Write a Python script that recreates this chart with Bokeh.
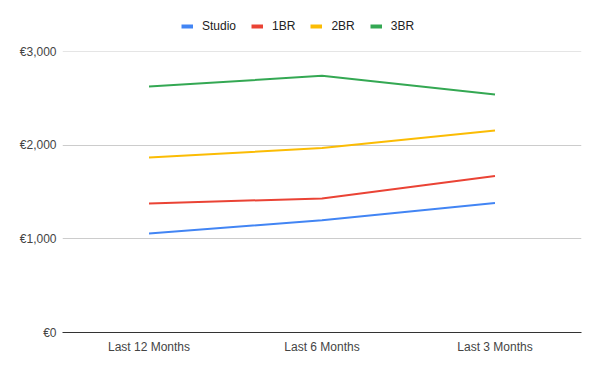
from bokeh.plotting import figure
from bokeh.layouts import column
from bokeh.models import FactorRange, Range1d, SingleIntervalTicker, CustomJSTickFormatter, Legend, LegendItem
from bokeh.embed import file_html
from bokeh.resources import INLINE

categories = ["Last 12 Months", "Last 6 Months", "Last 3 Months"]
studio = [1060, 1200, 1385]
br1 = [1380, 1434, 1673]
br2 = [1872, 1972, 2160]
br3 = [2630, 2745, 2545]
series_names = ["Studio", "1BR", "2BR", "3BR"]
series_colors = ["#4285F4", "#EA4335", "#FBBC04", "#34A853"]

# legend strip
lf = figure(width=600, height=40, x_range=Range1d(0, 1), y_range=Range1d(0, 1),
            output_backend="svg", toolbar_location=None, x_axis_type=None, y_axis_type=None,
            min_border_left=0, min_border_right=0, min_border_top=0, min_border_bottom=0)
lf.outline_line_color = None
lf.xgrid.grid_line_color = None
lf.ygrid.grid_line_color = None
items = []
for name, col in zip(series_names, series_colors):
    dummy = lf.line(x=[0], y=[float("nan")], line_color=col, line_width=4)
    items.append(LegendItem(label=name, renderers=[dummy]))
legend = Legend(items=items, orientation="horizontal", location=(119, 7),
                glyph_width=12, glyph_height=12, label_height=12, label_standoff=9,
                spacing=15, padding=0, margin=0, border_line_color=None,
                background_fill_alpha=0, label_text_font="Liberation Sans",
                label_text_font_size="12px", label_text_color="#222222")
lf.add_layout(legend, "center")

# main chart
p = figure(width=600, height=331, x_range=FactorRange(*categories), y_range=Range1d(0, 3005),
           output_backend="svg", toolbar_location=None,
           min_border_left=62, min_border_right=19, min_border_top=11, min_border_bottom=39)
p.outline_line_color = None
p.background_fill_color = "white"
p.border_fill_color = "white"

for vals, col in zip([studio, br1, br2, br3], series_colors):
    p.line(x=categories, y=vals, line_color=col, line_width=2)

p.xgrid.grid_line_color = None
p.ygrid.grid_line_color = "#cccccc"
p.yaxis.ticker = SingleIntervalTicker(interval=1000)
p.yaxis.formatter = CustomJSTickFormatter(code="return '\u20ac' + tick.toLocaleString('en-US');")
p.yaxis.axis_line_color = None
p.yaxis.major_tick_line_color = None
p.yaxis.minor_tick_line_color = None
p.yaxis.major_tick_out = 0
p.yaxis.minor_tick_out = 0
p.yaxis.major_label_standoff = 6
p.xaxis.axis_line_color = "#333333"
p.xaxis.major_tick_line_color = None
p.xaxis.minor_tick_line_color = None
p.xaxis.major_tick_out = 0
p.xaxis.minor_tick_out = 0
p.xaxis.major_label_standoff = 7
for ax in (p.xaxis, p.yaxis):
    ax.major_label_text_font = "Liberation Sans"
    ax.major_label_text_font_size = "12px"
    ax.major_label_text_color = "#444444"

layout = column(lf, p, spacing=0)
open("out.html", "w").write(file_html(layout, INLINE))
